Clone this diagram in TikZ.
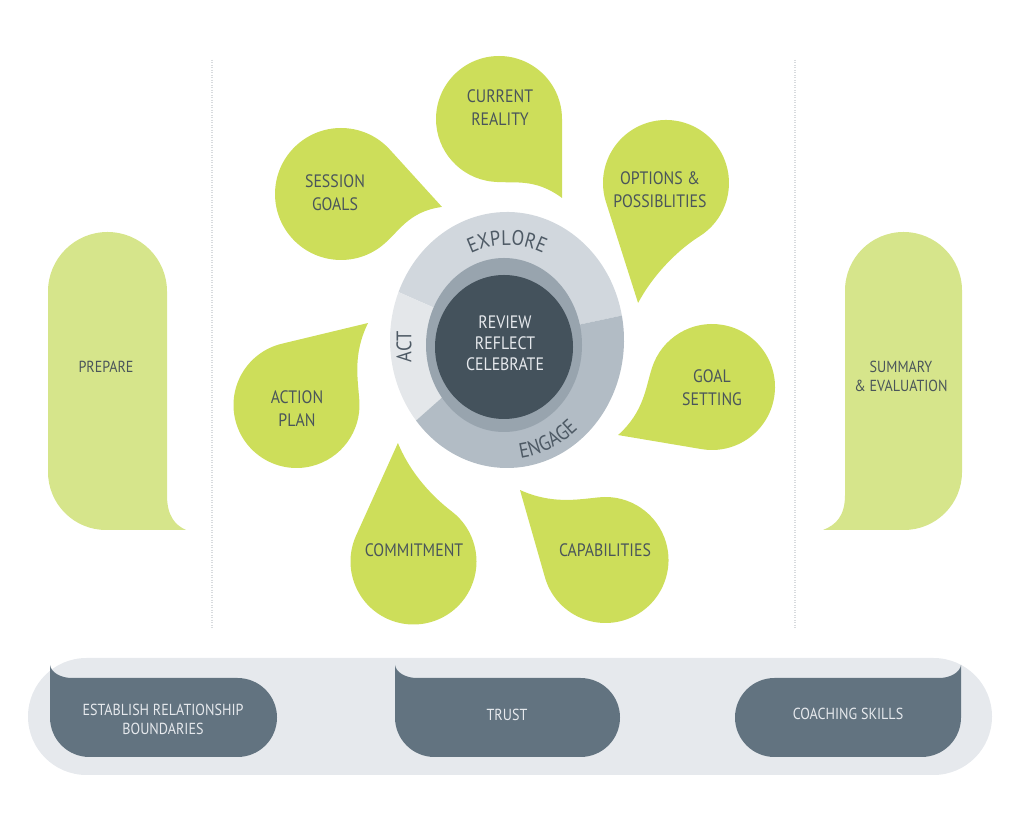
\documentclass[tikz,border=0pt]{standalone}
\usepackage{fontspec}
\setmainfont{PT Sans}[FakeStretch=0.88]
\usepackage{tikz}
\usetikzlibrary{decorations.text}

\definecolor{petalgreen}{HTML}{CDDE5A}
\definecolor{sidegreen}{HTML}{D6E58B}
\definecolor{petaltxt}{HTML}{4A555A}
\definecolor{bandgray}{HTML}{E6E9ED}
\definecolor{slate}{HTML}{627380}
\definecolor{ringlight}{HTML}{D1D7DD}
\definecolor{ringpale}{HTML}{E4E7EA}
\definecolor{ringmid}{HTML}{B2BCC5}
\definecolor{ringinner}{HTML}{98A4AE}
\definecolor{core}{HTML}{44525C}
\definecolor{ringtxt}{HTML}{4E5A65}
\definecolor{dotgray}{HTML}{D8DBDE}

% teardrop: centre, tip angle, tip distance, side, radius
\newcommand\petal[5]{%
  \fill[petalgreen, shift={#1}, rotate=#2, yscale=#4]
    (#3,0) -- ({acos(#5/#3)}:#5)
    arc[start angle={acos(#5/#3)}, end angle=315, radius=#5]
    .. controls +(45:22) and +(195:35) .. (#3,0) -- cycle;
}

\begin{document}
\begin{tikzpicture} [x=1pt, y=1pt,
    petaltext/.style = {text=petaltxt, align=center, inner sep=0pt,
      font=\fontsize{18}{23}\selectfont},
    sidetext/.style = {text=petaltxt, align=center, inner sep=0pt,
      font=\fontsize{16}{19}\selectfont},
    pilltext/.style = {text=bandgray, align=center, inner sep=0pt,
      font=\fontsize{16}{19}\selectfont},
    ringlabel/.style = {decorate, decoration={text along path, text align=center,
      text color=ringtxt, text={|\fontsize{21}{21}\selectfont|#1}}},
    dotline/.style = {dotgray, line width=2pt, dash pattern=on 1pt off 1.5pt}]
  \useasboundingbox (0,0) rectangle (1024,821);

  % column separators
  \draw[dotline] (212,761) -- (212,191);
  \draw[dotline] (795,761) -- (795,191);

  % side bubbles
  \fill[sidegreen] (48,349) -- (48,529.5) arc[start angle=180, end angle=0, radius=59.5]
    -- (167,326) .. controls (167,305) and (175,296) .. (186,291)
    -- (106,291) arc[start angle=270, end angle=180, radius=58] -- cycle;
  \fill[sidegreen] (962,349) -- (962,530.5) arc[start angle=0, end angle=180, radius=58.5]
    -- (845,326) .. controls (845,305) and (836,296) .. (823,291)
    -- (904,291) arc[start angle=270, end angle=360, radius=58] -- cycle;
  \node[sidetext] (PREPARE) at (106,454) {PREPARE};
  \node[sidetext] (SUMMARY) at (901,444.5) {SUMMARY\\\& EVALUATION};

  % foundation band
  \fill[bandgray, rounded corners=58.5] (28,46) rectangle (992,163);
  \fill[slate] (50,156) -- (50,103.5) arc[start angle=180, end angle=270, radius=39.5]
    -- (237.5,64) arc[start angle=-90, end angle=90, radius=39.5]
    -- (72,143) .. controls (60,143) and (51,149) .. (50,156) -- cycle;
  \fill[slate] (395,156) -- (395,103.5) arc[start angle=180, end angle=270, radius=39.5]
    -- (580.5,64) arc[start angle=-90, end angle=90, radius=39.5]
    -- (417,143) .. controls (405,143) and (396,149) .. (395,156) -- cycle;
  \fill[slate] (961,156) -- (961,103.5) arc[start angle=0, end angle=-90, radius=39.5]
    -- (774.5,64) arc[start angle=270, end angle=90, radius=39.5]
    -- (939,143) .. controls (951,143) and (960,149) .. (961,156) -- cycle;
  \node[pilltext] (BOUNDARIES) at (163,102) {ESTABLISH RELATIONSHIP\\BOUNDARIES};
  \node[pilltext] (TRUST) at (507,106) {TRUST};
  \node[pilltext] (SKILLS) at (848,107) {COACHING SKILLS};

  % petals
  \petal{(341,627)}{-7.3}{101.8}{1}{66}
  \petal{(499,702)}{-51.4}{101.1}{1}{63}
  \petal{(666,638)}{-103.1}{123.2}{-1}{63}
  \petal{(712,434)}{-152.9}{105.5}{1}{63}
  \petal{(605.5,261)}{140.7}{110.5}{1}{63}
  \petal{(413.5,259.5)}{97.5}{119.5}{1}{63}
  \petal{(296.5,416)}{48.9}{108.8}{1}{63}
  \node[petaltext] (SESSION) at (335,628.5) {SESSION\\GOALS};
  \node[petaltext] (CURRENT) at (500,713) {CURRENT\\REALITY};
  \node[petaltext] (OPTIONS) at (660,631) {OPTIONS \&\\POSSIBLITIES};
  \node[petaltext] (GOAL) at (712,433.5) {GOAL\\SETTING};
  \node[petaltext] (CAPABILITIES) at (605,271) {CAPABILITIES};
  \node[petaltext] (COMMITMENT) at (414,271) {COMMITMENT};
  \node[petaltext] (ACTION) at (297,412.5) {ACTION\\PLAN};

  % centre wheel
  \fill[ringlight] (507,481) -- +(11:117 and 128)
    arc[start angle=11, end angle=158, x radius=117, y radius=128] -- cycle;
  \fill[ringpale] (507,481) -- +(158:117 and 128)
    arc[start angle=158, end angle=219, x radius=117, y radius=128] -- cycle;
  \fill[ringmid] (507,481) -- +(219:117 and 128)
    arc[start angle=219, end angle=371, x radius=117, y radius=128] -- cycle;
  \fill[ringinner] (504,476) ellipse[x radius=78, y radius=87];
  \fill[core] (504,474) ellipse[x radius=69, y radius=72];
  \node[text=bandgray, align=center, font=\fontsize{18}{21}\selectfont] (REVIEW)
    at (505,478) {REVIEW\\REFLECT\\CELEBRATE};
  \path[ringlabel=EXPLORE] ([shift={(150:88 and 95)}]507,481)
    arc[start angle=150, end angle=30, x radius=88, y radius=95];
  \path[ringlabel=ENGAGE] ([shift={(-100:107 and 119)}]507,481)
    arc[start angle=-100, end angle=-32, x radius=107, y radius=119];
  \node[text=ringtxt, rotate=90, font=\fontsize{21}{21}\selectfont] (ACT) at (404,474) {ACT};
\end{tikzpicture}
\end{document}
